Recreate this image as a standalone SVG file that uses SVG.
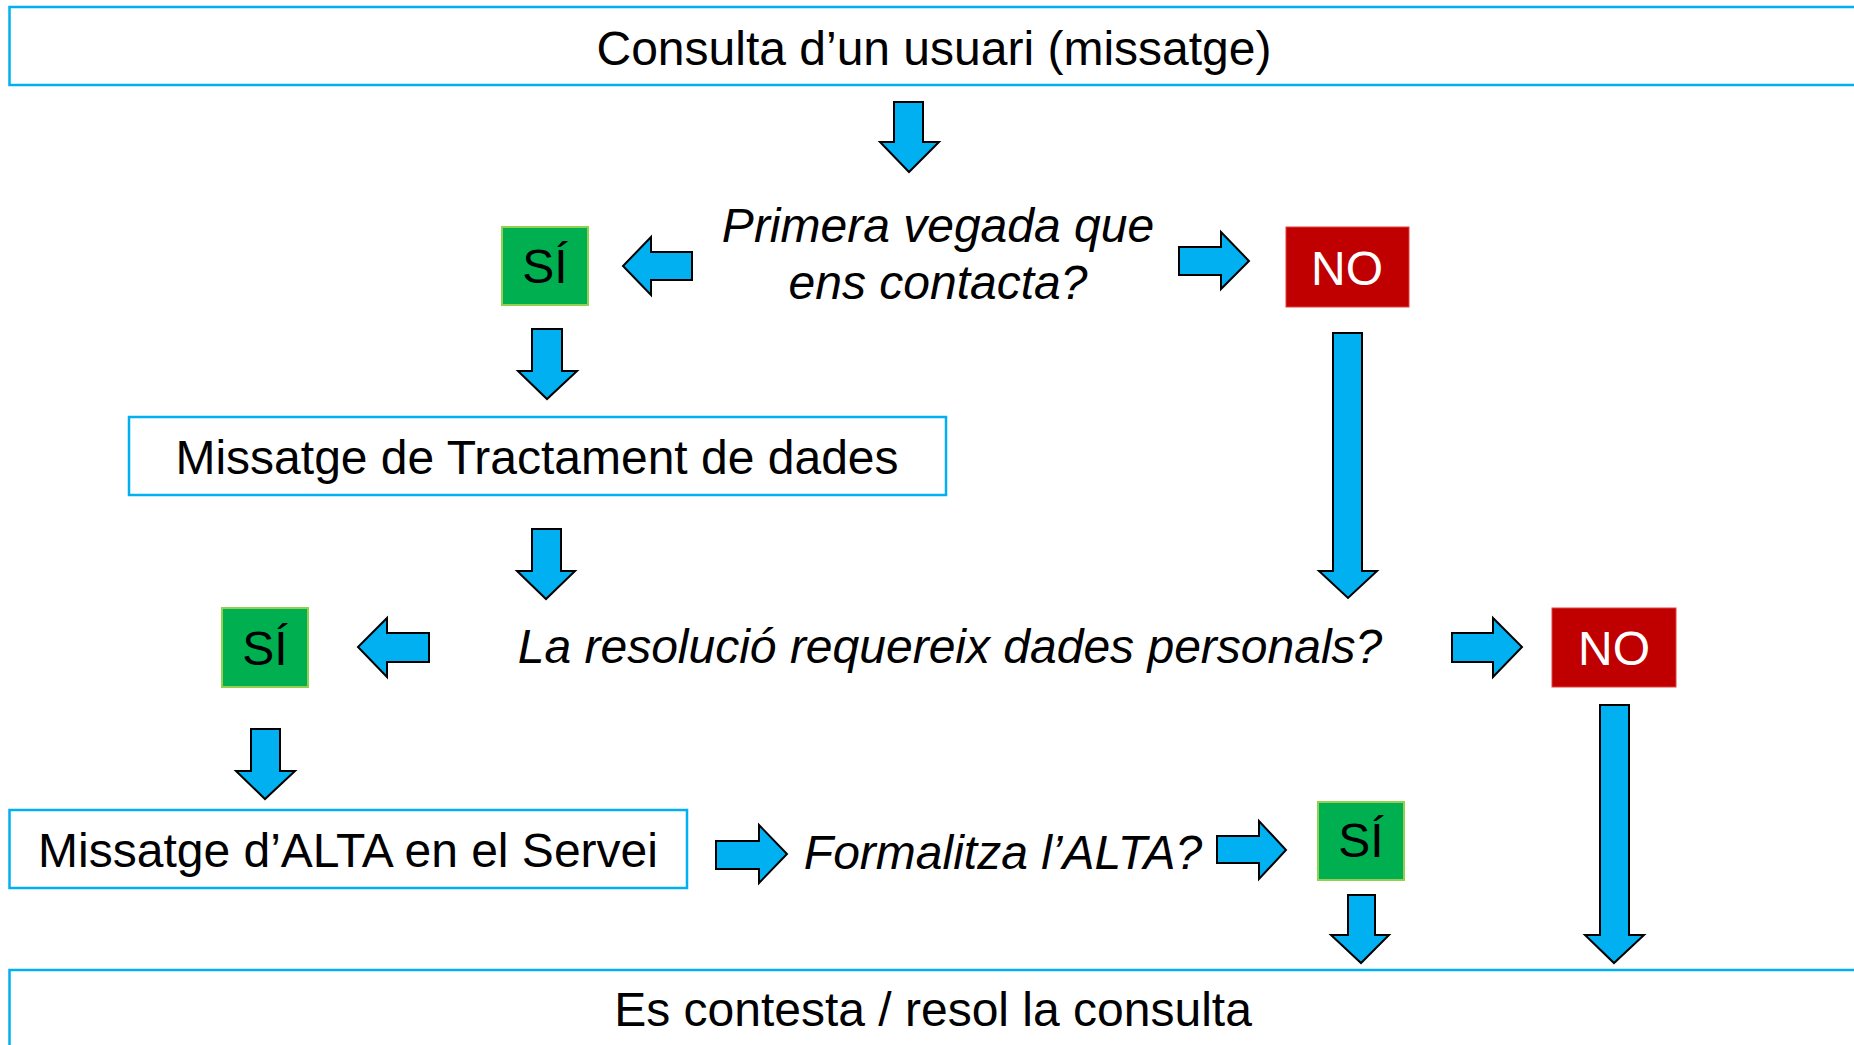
<svg xmlns="http://www.w3.org/2000/svg" width="1854" height="1045" viewBox="0 0 1854 1045">
<style>
.box{fill:#fff;stroke:#00B0F0;stroke-width:2.5}
.si{fill:#00B050;stroke:#92D050;stroke-width:2}
.no{fill:#C00000;stroke:#E04040;stroke-width:1}
.t{font-family:"Liberation Sans",Arial,sans-serif;font-size:48px;fill:#000;text-anchor:middle}
.i{font-style:italic}
.w{fill:#fff}
.arr{fill:#00B0F0;stroke:#000;stroke-width:2;stroke-linejoin:miter}
</style>
<rect width="1854" height="1045" fill="#fff"/>
<g id="n-consulta"><rect class="box" x="9.5" y="7" width="1860" height="78"/><text class="t" x="934" y="65">Consulta d’un usuari (missatge)</text></g>
<g id="n-primera"><text class="t i" x="938" y="242">Primera vegada que</text><text class="t i" x="938" y="299">ens contacta?</text></g>
<g id="n-si1"><rect class="si" x="502" y="227" width="86" height="78"/><text class="t" x="545" y="283">SÍ</text></g>
<g id="n-no1"><rect class="no" x="1286" y="227" width="123" height="80"/><text class="t w" x="1347" y="285">NO</text></g>
<g id="n-tractament"><rect class="box" x="129" y="417" width="817" height="78"/><text class="t" x="537" y="474">Missatge de Tractament de dades</text></g>
<g id="n-resolucio"><text class="t i" x="950" y="663">La resolució requereix dades personals?</text></g>
<g id="n-si2"><rect class="si" x="222" y="608" width="86" height="79"/><text class="t" x="265" y="665">SÍ</text></g>
<g id="n-no2"><rect class="no" x="1552" y="608" width="124" height="79"/><text class="t w" x="1614" y="665">NO</text></g>
<g id="n-alta"><rect class="box" x="9.5" y="810" width="677.5" height="78"/><text class="t" x="348" y="867">Missatge d’ALTA en el Servei</text></g>
<g id="n-formalitza"><text class="t i" x="1003" y="869">Formalitza l’ALTA?</text></g>
<g id="n-si3"><rect class="si" x="1318" y="802" width="86" height="78"/><text class="t" x="1361" y="857">SÍ</text></g>
<g id="n-resol"><rect class="box" x="9.5" y="970" width="1860" height="90"/><text class="t" x="933" y="1026">Es contesta / resol la consulta</text></g>
<g id="connectors">
<polygon class="arr" points="894,102 923,102 923,142 939,142 909,172 880,142 894,142"/>
<polygon class="arr" points="692,252 651,252 651,237 623,266 651,295 651,280 692,280"/>
<polygon class="arr" points="1179,247 1221,247 1221,232 1249,261 1221,289 1221,275 1179,275"/>
<polygon class="arr" points="532,329 562,329 562,371 577,371 547,399 518,371 532,371"/>
<polygon class="arr" points="1333,333 1362,333 1362,571 1377,571 1348,598 1319,571 1333,571"/>
<polygon class="arr" points="532,529 561,529 561,571 575,571 546,599 517,571 532,571"/>
<polygon class="arr" points="429,633 387,633 387,618 358,647 387,677 387,662 429,662"/>
<polygon class="arr" points="1452,633 1493,633 1493,618 1522,647 1493,677 1493,662 1452,662"/>
<polygon class="arr" points="251,729 280,729 280,771 295,771 265,799 236,771 251,771"/>
<polygon class="arr" points="1600,705 1629,705 1629,935 1644,935 1614,963 1585,935 1600,935"/>
<polygon class="arr" points="716,841 759,841 759,825 787,854 759,883 759,869 716,869"/>
<polygon class="arr" points="1217,836 1259,836 1259,821 1286,850 1259,879 1259,863 1217,863"/>
<polygon class="arr" points="1348,895 1375,895 1375,935 1389,935 1361,963 1331,935 1348,935"/>
</g>
</svg>
